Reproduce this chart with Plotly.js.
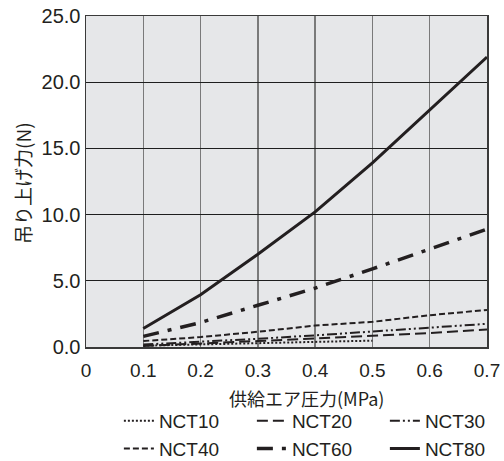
<!DOCTYPE html>
<html>
<head>
<meta charset="utf-8">
<script src="https://cdn.plot.ly/plotly-3.0.1.min.js"></script>
<style>html,body{margin:0;padding:0;background:#fff;}#chart{width:504px;height:461px;}</style>
</head>
<body>
<div id="chart"></div>
<script>
const pressure = [0.1, 0.2, 0.3, 0.4, 0.5, 0.6, 0.7];
const pressure10 = [0.1, 0.2, 0.3, 0.4, 0.5];
const nct10 = [0.1, 0.2, 0.3, 0.4, 0.48];
const nct20 = [0.08, 0.25, 0.45, 0.65, 0.83, 1.05, 1.33];
const nct30 = [0.18, 0.38, 0.62, 0.88, 1.16, 1.48, 1.75];
const nct40 = [0.45, 0.75, 1.15, 1.62, 1.9, 2.4, 2.8];
const nct60 = [0.8, 1.85, 3.15, 4.45, 5.9, 7.4, 8.9];
const nct80 = [1.4, 3.95, 7.0, 10.2, 13.9, 17.9, 21.9];
const xTicks = [0, 0.1, 0.2, 0.3, 0.4, 0.5, 0.6, 0.7];
const xTickText = ['0', '0.1', '0.2', '0.3', '0.4', '0.5', '0.6', '0.7'];
const yTicks = [0, 5, 10, 15, 20, 25];
const yTickText = ['0.0', '5.0', '10.0', '15.0', '20.0', '25.0'];
const xTitle = '供給エア圧力(MPa)';
const yTitle = '吊り上げ力(N)';

const ink = '#231f20';
const fontFam = '"Liberation Sans", Arial, "Noto Sans CJK JP", sans-serif';
const jpFam = '"Noto Sans CJK JP", "Liberation Sans", sans-serif';

const traces = [
  {name: 'NCT10', x: pressure10, y: nct10, line: {color: ink, width: 2, dash: '2px,2px'}},
  {name: 'NCT20', x: pressure, y: nct20, line: {color: ink, width: 2, dash: '11px,5px'}},
  {name: 'NCT30', x: pressure, y: nct30, line: {color: ink, width: 2, dash: '10px,3px,2px,3px,2px,3px'}},
  {name: 'NCT40', x: pressure, y: nct40, line: {color: ink, width: 2, dash: '6px,3px'}},
  {name: 'NCT60', x: pressure, y: nct60, line: {color: ink, width: 3.5, dash: '16px,9px,4px,9px'}},
  {name: 'NCT80', x: pressure, y: nct80, line: {color: ink, width: 3}}
].map(t => Object.assign({type: 'scatter', mode: 'lines', hoverinfo: 'skip'}, t));

const layout = {
  width: 504, height: 461,
  margin: {l: 86, r: 17, t: 16, b: 114, autoexpand: false},
  paper_bgcolor: '#ffffff',
  plot_bgcolor: '#e6e7e9',
  font: {family: fontFam, color: ink, size: 19},
  showlegend: true,
  legend: {
    orientation: 'h', x: 0.082, xanchor: 'left', y: -0.166, yanchor: 'top',
    entrywidth: 88, traceorder: 'normal',
    font: {family: fontFam, size: 19, color: ink},
    bgcolor: 'rgba(0,0,0,0)', itemwidth: 30, tracegroupgap: 0
  },
  xaxis: {
    range: [0, 0.7], tickvals: xTicks, ticktext: xTickText,
    showgrid: true, gridcolor: '#7a7a7a', gridwidth: 1.5,
    zeroline: false, showline: true, linecolor: '#3a3a3a', linewidth: 1.5, mirror: true,
    ticks: 'outside', ticklen: 6, tickcolor: 'rgba(0,0,0,0)',
    tickfont: {family: fontFam, size: 19, color: ink}
  },
  yaxis: {
    range: [0, 25], tickvals: yTicks, ticktext: yTickText,
    showgrid: true, gridcolor: '#1e1e1e', gridwidth: 1,
    zeroline: false, showline: true, linecolor: '#3a3a3a', linewidth: 1.5, mirror: true,
    ticks: '', tickfont: {family: fontFam, size: 20, color: ink}
  },
  annotations: [
    {text: xTitle, xref: 'paper', yref: 'paper', x: 0.549, y: -0.155, xanchor: 'center', yanchor: 'middle',
     showarrow: false, font: {family: jpFam, size: 18, color: ink}},
    {text: yTitle, xref: 'paper', yref: 'paper', x: -0.16, y: 0.495, xanchor: 'center', yanchor: 'middle',
     textangle: -90, showarrow: false, font: {family: jpFam, size: 19, color: ink}}
  ]
};

Plotly.newPlot('chart', traces, layout, {displayModeBar: false, staticPlot: true});
</script>
</body>
</html>
